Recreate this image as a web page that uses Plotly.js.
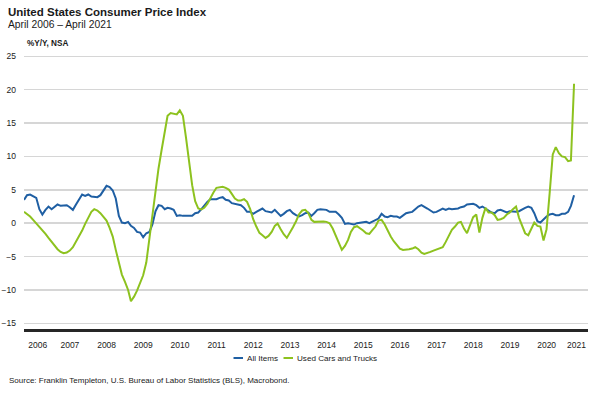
<!DOCTYPE html>
<html><head><meta charset="utf-8">
<script src="https://cdn.plot.ly/plotly-3.0.1.min.js"></script>
<style>html,body{margin:0;padding:0;background:#fff}#chart{width:602px;height:395px}</style>
</head><body><div id="chart"></div>
<script>
// Monthly series, April 2006 – April 2021 (% Y/Y, NSA)
const firstMonth = '2006-04';
const allItems = [
  3.5, 4.2, 4.3, 4.1, 3.8, 2.1, 1.3, 2.0, 2.5,
  2.1, 2.4, 2.8, 2.6, 2.7, 2.7, 2.4, 2.0, 2.8, 3.5, 4.3, 4.1,
  4.3, 4.0, 4.0, 3.9, 4.2, 5.0, 5.6, 5.4, 4.9, 3.7, 1.1, 0.1,
  0.0, 0.2, -0.4, -0.7, -1.3, -1.4, -2.1, -1.5, -1.3, -0.2, 1.8, 2.7,
  2.6, 2.1, 2.3, 2.2, 2.0, 1.1, 1.2, 1.1, 1.1, 1.2, 1.1, 1.5,
  1.6, 2.1, 2.7, 3.2, 3.6, 3.6, 3.6, 3.8, 3.9, 3.5, 3.4, 3.0,
  2.9, 2.9, 2.7, 2.3, 1.7, 1.7, 1.4, 1.7, 2.0, 2.2, 1.8, 1.7,
  1.6, 2.0, 1.5, 1.1, 1.4, 1.8, 2.0, 1.5, 1.2, 1.0, 1.2, 1.5,
  1.6, 1.1, 1.5, 2.0, 2.1, 2.1, 2.0, 1.7, 1.7, 1.7, 1.3, 0.8,
  -0.1, 0.0, -0.1, -0.2, 0.0, 0.1, 0.2, 0.2, 0.0, 0.2, 0.5, 0.7,
  1.4, 1.0, 0.9, 1.1, 1.0, 1.0, 0.8, 1.1, 1.5, 1.6, 1.7, 2.1,
  2.5, 2.7, 2.4, 2.2, 1.9, 1.6, 1.7, 1.9, 2.2, 2.0, 2.2, 2.1,
  2.1, 2.2, 2.4, 2.5, 2.8, 2.9, 2.9, 2.7, 2.3, 2.5, 2.2, 1.9,
  1.6, 1.5, 1.9, 2.0, 1.8, 1.6, 1.8, 1.7, 1.7, 1.8, 2.1, 2.3,
  2.5, 2.3, 1.5, 0.3, 0.1, 0.6, 1.0, 1.3, 1.4, 1.2, 1.2, 1.4,
  1.4, 1.7, 2.6, 4.2
];
const usedCars = [
  1.7, 1.4, 1.0, 0.5, 0.0, -0.5, -1.0, -1.6, -2.2,
  -2.8, -3.4, -3.9, -4.3, -4.5, -4.4, -4.1, -3.6, -2.8, -2.0, -1.1, -0.1,
  0.9, 1.7, 2.1, 1.9, 1.5, 1.0, 0.4, -0.7, -2.0, -4.0, -6.0, -7.7,
  -8.8, -10.0, -11.7, -11.0, -10.1, -9.0, -7.8, -5.9, -2.3, 1.6, 4.9, 8.2,
  11.0, 13.5, 16.1, 16.5, 16.4, 16.3, 16.9, 16.1, 12.8, 9.5, 5.7, 3.3,
  2.2, 2.05, 2.3, 2.9, 3.8, 4.6, 5.3, 5.4, 5.45, 5.3, 5.05, 4.4,
  3.7, 3.4, 3.4, 3.6, 3.2, 2.1, 0.6, -0.5, -1.45, -1.8, -2.2, -1.9,
  -1.3, -0.4, -0.05, -0.9, -1.65, -2.2, -1.5, -0.6, 0.3, 1.35, 1.9, 2.0,
  1.5, 0.5, 0.2, 0.25, 0.3, 0.25, 0.2, 0.0, -0.8, -1.8, -3.1, -4.0,
  -3.4, -2.5, -1.3, -0.6, -0.45, -0.75, -1.1, -1.5, -1.6, -1.05, -0.5, 0.4,
  0.5, -0.2, -1.1, -2.0, -2.7, -3.3, -3.8, -4.0, -4.0, -3.9, -3.8, -3.6,
  -3.9, -4.4, -4.6, -4.5, -4.3, -4.1, -3.9, -3.8, -3.6, -2.8, -1.8, -1.0,
  -0.5, 0.1, 0.2, -0.8, -1.5, -0.3, 0.9, 1.3, -1.4, 0.8, 2.3, 1.6,
  1.6, 1.2, 0.5, 0.6, 0.8, 1.3, 1.6, 2.1, 2.5, 0.8, -0.5, -1.5,
  -1.8, -0.7, 0.1, -0.4, -0.5, -2.6, -0.9, 4.5, 10.3, 11.4, 10.5, 10.0,
  9.9, 9.3, 9.4, 20.9
];
const yearLabels = ['2006','2007','2008','2009','2010','2011','2012','2013','2014','2015','2016','2017','2018','2019','2020','2021'];
const yTicks = [-15, -10, -5, 0, 5, 10, 15, 20, 25];

const seriesNames = ['All Items', 'Used Cars and Trucks'];
const colors = ['#1f5fa3', '#8dc21f'];

// month dates
const [fy, fm] = firstMonth.split('-').map(Number);
const dates = allItems.map((_, i) => {
  const d = new Date(Date.UTC(fy, fm - 1 + i, 1));
  return d.toISOString().slice(0, 10);
});

const xRange = ['2006-04-01', '2021-08-18'];
const r0 = Date.parse(xRange[0]), r1 = Date.parse(xRange[1]);
const tickvals = yearLabels.map(y => {
  const s = Math.max(Date.UTC(+y, 0, 1), r0);
  const e = Math.min(Date.UTC(+y + 1, 0, 1), r1);
  return new Date((s + e) / 2).toISOString().slice(0, 10);
});

const W = 602, H = 395, L = 24, R = 14, T = 53.2, B = 66;
const pw = W - L - R, ph = H - T - B;
const px = x => (x - L) / pw;
const py = y => (H - B - y) / ph;

const FONT = '"Liberation Sans", Arial, sans-serif';

const traces = [
  { x: dates, y: allItems, name: seriesNames[0], type: 'scatter', mode: 'lines',
    line: { color: colors[0], width: 2 } },
  { x: dates, y: usedCars, name: seriesNames[1], type: 'scatter', mode: 'lines',
    line: { color: colors[1], width: 2 } }
];

const ann = (text, x, y, size, bold, anchor) => ({
  text: bold ? '<b>' + text + '</b>' : text,
  xref: 'paper', yref: 'paper', x: px(x), y: py(y),
  xanchor: anchor || 'left', yanchor: 'middle', showarrow: false,
  font: { family: FONT, size: size, color: '#1a1a1a' }
});

const layout = {
  width: W, height: H,
  margin: { l: L, r: R, t: T, b: B, pad: 0 },
  paper_bgcolor: '#fff', plot_bgcolor: '#fff',
  showlegend: false,
  font: { family: FONT, size: 8.5, color: '#1a1a1a' },
  xaxis: {
    type: 'date', range: xRange,
    tickmode: 'array', tickvals: tickvals, ticktext: yearLabels,
    ticks: '', showgrid: false, zeroline: false,
    showline: true, linecolor: '#262626', linewidth: 2.5,
    tickfont: { family: FONT, size: 8.5, color: '#1a1a1a' },
    ticklabelstandoff: 6
  },
  yaxis: {
    range: [-15.85, 25.5],
    tickmode: 'array', tickvals: yTicks,
    ticks: '', showgrid: true, gridcolor: '#d6d6d6', gridwidth: 1.5,
    zeroline: false, showline: false,
    tickfont: { family: FONT, size: 8.5, color: '#1a1a1a' },
    ticklabelstandoff: 7
  },
  annotations: [
    ann('United States Consumer Price Index', 6, 12.5, 11.5, true),
    ann('April 2006 \u2013 April 2021', 6, 25, 10.3, false),
    ann('%Y/Y, NSA', 25, 44, 8.2, true),
    ann(seriesNames[0], 245, 358, 8.1, false),
    ann(seriesNames[1], 295, 358, 8.1, false),
    ann('Source: Franklin Templeton, U.S. Bureau of Labor Statistics (BLS), Macrobond.', 7, 380, 8, false)
  ],
  shapes: [
    { type: 'line', xref: 'paper', yref: 'paper', x0: px(233.5), x1: px(243), y0: py(358), y1: py(358),
      line: { color: colors[0], width: 2 } },
    { type: 'line', xref: 'paper', yref: 'paper', x0: px(283.5), x1: px(293), y0: py(358), y1: py(358),
      line: { color: colors[1], width: 2 } }
  ]
};

Plotly.newPlot('chart', traces, layout, { displayModeBar: false, staticPlot: true });
</script>
</body></html>
